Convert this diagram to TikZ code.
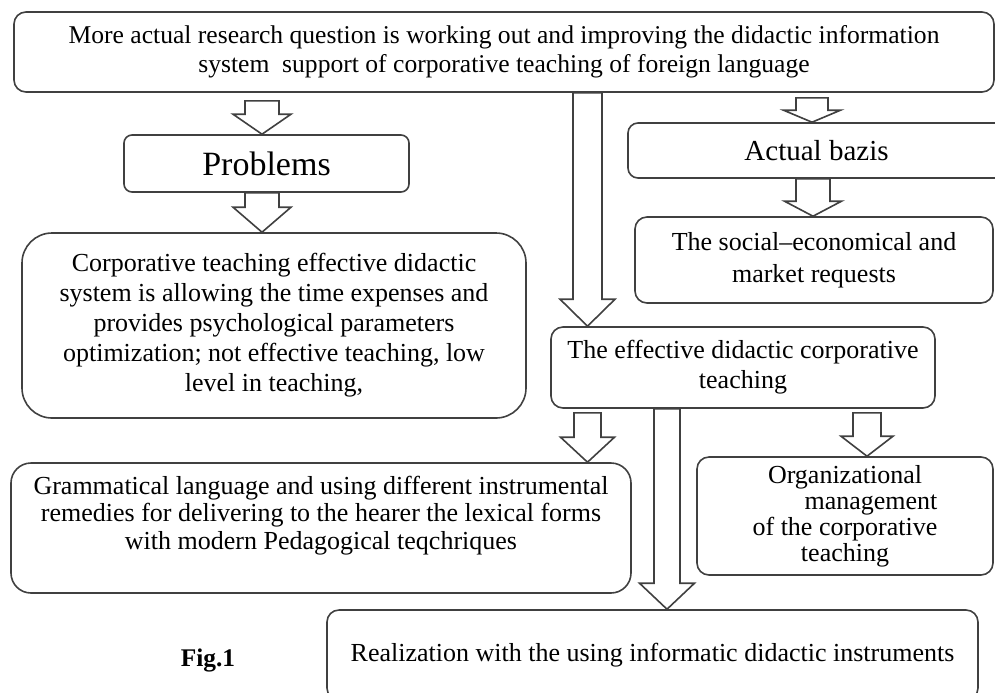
\documentclass[tikz,border=0pt]{standalone}
\usepackage{fontspec}
\setmainfont{Liberation Serif}
\usetikzlibrary{calc,positioning}

% hollow block arrow pointing down: x, from, to, shaft half, head half, head length
\newcommand{\blockdown}[6]{%
  \draw[hollow] ($(#1,0 |- #2)+(-#4,0)$) -- ($(#1,0 |- #3)+(-#4,-#6)$)
    -- ($(#1,0 |- #3)+(-#5,-#6)$) -- (#1,0 |- #3) -- ($(#1,0 |- #3)+(#5,-#6)$)
    -- ($(#1,0 |- #3)+(#4,-#6)$) -- ($(#1,0 |- #2)+(#4,0)$) -- cycle;}

\begin{document}
\begin{tikzpicture}[x=0.5pt, y=-0.5pt,
    box/.style={draw=black!75, line width=0.8pt, rounded corners=#1, align=center,
      inner sep=2pt, font=\fontsize{12.8pt}{14.5pt}\selectfont},
    box/.default=6pt,
    hollow/.style={draw=black!75, line width=0.8pt, fill=white, line join=miter}]
    \useasboundingbox (0,0) rectangle (995,692);
    \clip (0,0) rectangle (995,692);

    \node[box, minimum width=490pt, minimum height=40pt] (top) at (504,52)
        {More actual research question is working out and improving the didactic information\\
         system\ \ support of corporative teaching of foreign language};
    \node[box=4pt, minimum width=142.5pt, minimum height=28.5pt,
        font=\fontsize{17pt}{19pt}\selectfont] (probs) at (266.5,163.5) {Problems};
    \node[box=5pt, minimum width=188.5pt, minimum height=27.5pt,
        font=\fontsize{14.5pt}{16pt}\selectfont] (bazis) at (816.5,150.5) {Actual bazis};
    \node[box, minimum width=179pt, minimum height=43pt,
        font=\fontsize{13pt}{16pt}\selectfont] (social) at (814,260)
        {The social--economical and\\ market requests};
    \node[box=15pt, minimum width=252pt, minimum height=92.5pt,
        font=\fontsize{13pt}{15pt}\selectfont] (corp) at (274,325.5)
        {Corporative teaching effective didactic\\ system is allowing the time expenses and\\
         provides psychological parameters\\ optimization; not effective teaching, low\\
         level in teaching,};
    \node[box, minimum width=192pt, minimum height=40.5pt,
        font=\fontsize{13pt}{15pt}\selectfont] (eff) at (743,367.5)
        {The effective didactic corporative\\ teaching};
    \node[box=10pt, minimum width=310pt, minimum height=65pt,
        font=\fontsize{13pt}{13.75pt}\selectfont] (gram) at (321,528)
        {Grammatical language and using different instrumental\\
         remedies for delivering to the hearer the lexical forms\\
         with modern Pedagogical teqchriques\\[1.5pt]\mbox{}};
    \node[box, minimum width=148pt, minimum height=59pt,
        font=\fontsize{13pt}{13pt}\selectfont] (org) at (845,516)
        {Organizational\\ \hspace*{26pt}management\\ of the corporative\\ teaching};
    \node[box, minimum width=325.5pt, minimum height=45pt,
        font=\fontsize{13pt}{15pt}\selectfont] (real) at (652.5,655)
        {Realization with the using informatic didactic instruments};
    \node[font=\fontsize{12.7pt}{14pt}\selectfont\bfseries] (fig) at (208,660) {Fig.1};

    \coordinate (topleft) at ($(top.south)+(0,8)$);
    \coordinate (topright) at ($(top.south)+(0,5)$);
    \coordinate (effbelow) at ($(eff.south)+(0,4)$);

    \foreach \x/\a/\b/\s/\h/\l in {262/topleft/probs.north/17/29/20,
        262/probs.south/corp.north/17/29/25,
        587.5/top.south/eff.north/14.5/27.5/27,
        812/topright/bazis.north/16/28.5/12,
        813/bazis.south/social.north/17/28.5/15,
        587.5/effbelow/gram.north/13.5/27/25,
        867/effbelow/org.north/14/26/20} {
        \blockdown{\x}{\a}{\b}{\s}{\h}{\l}
    }
    \blockdown{667}{eff.south}{real.north}{13}{27.5}{26}
\end{tikzpicture}
\end{document}
